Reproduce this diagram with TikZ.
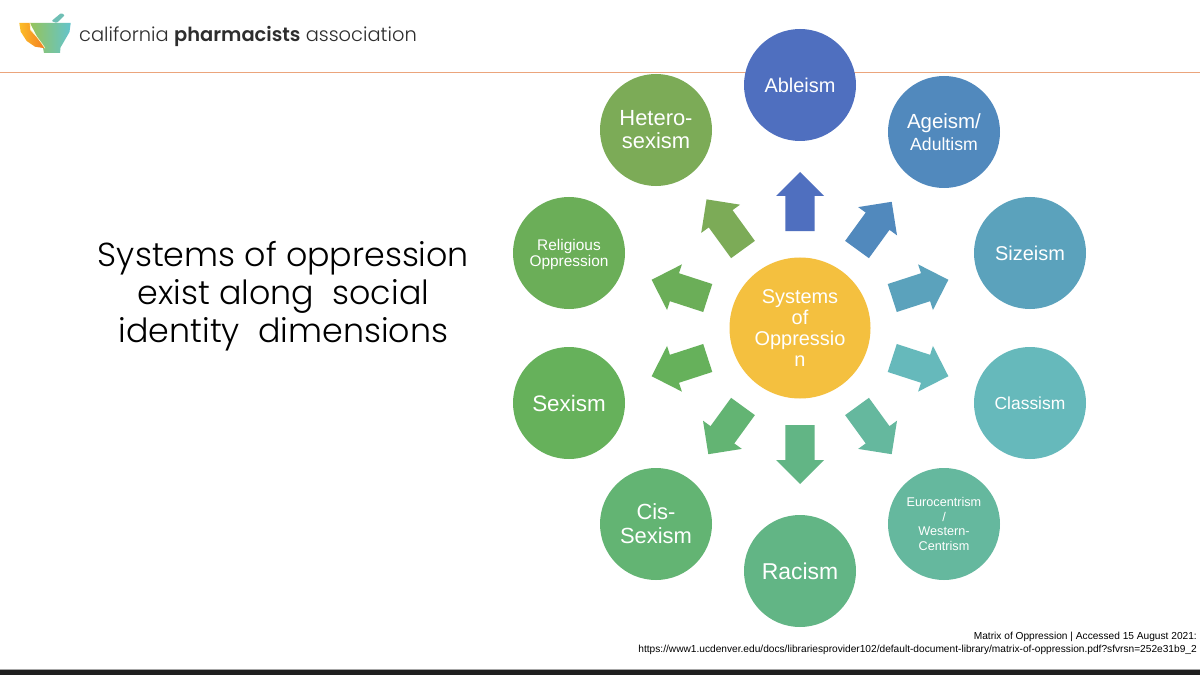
\documentclass[tikz,border=0pt]{standalone}
\usepackage{fontspec}
\setmainfont{Liberation Sans}
\newfontfamily\titlefont[BoldFont={Poppins SemiBold}]{Poppins Light}
\definecolor{cAble}{HTML}{4F6FBF}
\definecolor{cAge}{HTML}{5189BD}
\definecolor{cSize}{HTML}{5BA2BC}
\definecolor{cClass}{HTML}{66B9BB}
\definecolor{cEuro}{HTML}{65B89E}
\definecolor{cRace}{HTML}{62B585}
\definecolor{cCis}{HTML}{63B473}
\definecolor{cSex}{HTML}{66B15B}
\definecolor{cRelig}{HTML}{6BAE58}
\definecolor{cHetero}{HTML}{7CAB57}
\definecolor{cCentre}{HTML}{F4C03F}
\definecolor{cRule}{HTML}{EBA57C}
\definecolor{cInk}{HTML}{2E2E2E}
\definecolor{cPestle}{HTML}{6FBFB5}
\definecolor{cBowlL}{HTML}{96C45A}
\definecolor{cBowlR}{HTML}{63C4CD}
\definecolor{cOrangeA}{HTML}{FCBE28}
\definecolor{cOrangeB}{HTML}{F37C22}
\tikzset{
  x=1bp,y=-1bp,
  orb/.style={circle,inner sep=0pt,minimum size=112bp,text=white,align=center},
  sysarrow/.style={draw=none},
}
\begin{document}
\begin{tikzpicture}
\useasboundingbox (0,0) rectangle (1200,675);
\fill[white] (0,0) rectangle (1200,675);
% header rule and footer
\draw[cRule,line width=1bp] (0,73) -- (1200,73);
\fill[black!88] (0,669.5) rectangle (1200,675);
\fill[gray!70] (0,669) rectangle (1200,669.7);
% logo
\fill[cPestle,rounded corners=1bp] (51.5,21) -- (61.2,13) -- (64.8,15.2) -- (56.7,23) -- cycle;
\shade[left color=cBowlL,right color=cBowlR]
  (30,23) -- (70.7,23) -- (69.5,32) -- (62,45) -- (60.5,47.5) -- (60,53) -- (44,53) -- (43,48) -- cycle;
\shade[left color=cOrangeA,right color=cOrangeB]
  (19.3,23) -- (30,23) -- (30.7,30) -- (36.7,36.7) -- (41.7,43.3) -- (45,48.3) -- (35,46.7) -- (26.7,41) -- (20.7,31.7) -- cycle;
\draw[white!80!yellow,line width=0.6bp] (30,23) -- (30.7,30) -- (36.7,36.7) -- (41.7,43.3) -- (45,48.3);
\node[text=cInk,anchor=base west,inner sep=0pt,font=\titlefont\fontsize{19.5}{24}\selectfont] (brand) at (79,42) {california \textbf{pharmacists} association};
% title
\node[text=black,align=center,inner sep=0pt,font=\titlefont\fontsize{33.4}{38}\selectfont] (title) at (283.5,296) {Systems of oppression\\exist along \ social\\identity \ dimensions};
% outer circles
\node[orb,fill=cAble,font=\fontsize{20}{22}\selectfont] (ableism) at (800,85) {Ableism};
\node[orb,fill=cAge] (ageism) at (944,132) {{\fontsize{20.5}{24}\selectfont Ageism/}\\[4pt]{\fontsize{17.7}{22}\selectfont Adultism}};
\node[orb,fill=cSize,font=\fontsize{20}{22}\selectfont] (sizeism) at (1030,253) {Sizeism};
\node[orb,fill=cClass,font=\fontsize{17.5}{20}\selectfont] (classism) at (1030,403) {Classism};
\node[orb,fill=cEuro,font=\fontsize{12.7}{15}\selectfont] (euro) at (944,524) {Eurocentrism\\/\\Western-\\Centrism};
\node[orb,fill=cRace,font=\fontsize{23}{25}\selectfont] (racism) at (800,571) {Racism};
\node[orb,fill=cCis,font=\fontsize{22}{24}\selectfont] (cis) at (656,524) {Cis-\\Sexism};
\node[orb,fill=cSex,font=\fontsize{22.5}{25}\selectfont] (sexism) at (569,403) {Sexism};
\node[orb,fill=cRelig,font=\fontsize{15.5}{16}\selectfont] (religious) at (569,253) {\rule{0pt}{15pt}Religious\\Oppression};
\node[orb,fill=cHetero,font=\fontsize{22}{23}\selectfont] (hetero) at (656,130) {Hetero-\\sexism};
% centre
\node[orb,minimum size=141bp,fill=cCentre,font=\fontsize{20}{21}\selectfont] (centre) at (800,328) {Systems\\of\\Oppressio\\n};
% block arrows
\foreach \a/\c/\e in {90/cAble/0,54/cAge/0,18/cSize/0,-18/cClass/0,-54/cEuro/0,-90/cRace/0,-126/cCis/0,-162/cSex/0,162/cRelig/0,126/cHetero/3}{
  \fill[\c,sysarrow,shift={(centre.center)},rotate=\a]
    (97,14.7) -- (132+\e,14.7) -- (132+\e,24) -- (156+\e,0) -- (132+\e,-24) -- (132+\e,-14.7) -- (97,-14.7) -- cycle;
}
% source
\node[anchor=base east,inner sep=0pt,font=\fontsize{10.2}{12}\selectfont] (srcA) at (1197,639) {Matrix of Oppression | Accessed 15 August 2021:};
\node[anchor=base east,inner sep=0pt,font=\fontsize{10.2}{12}\selectfont] (srcB) at (1197,652) {https://www1.ucdenver.edu/docs/librariesprovider102/default-document-library/matrix-of-oppression.pdf?sfvrsn=252e31b9\_2};
\end{tikzpicture}
\end{document}
